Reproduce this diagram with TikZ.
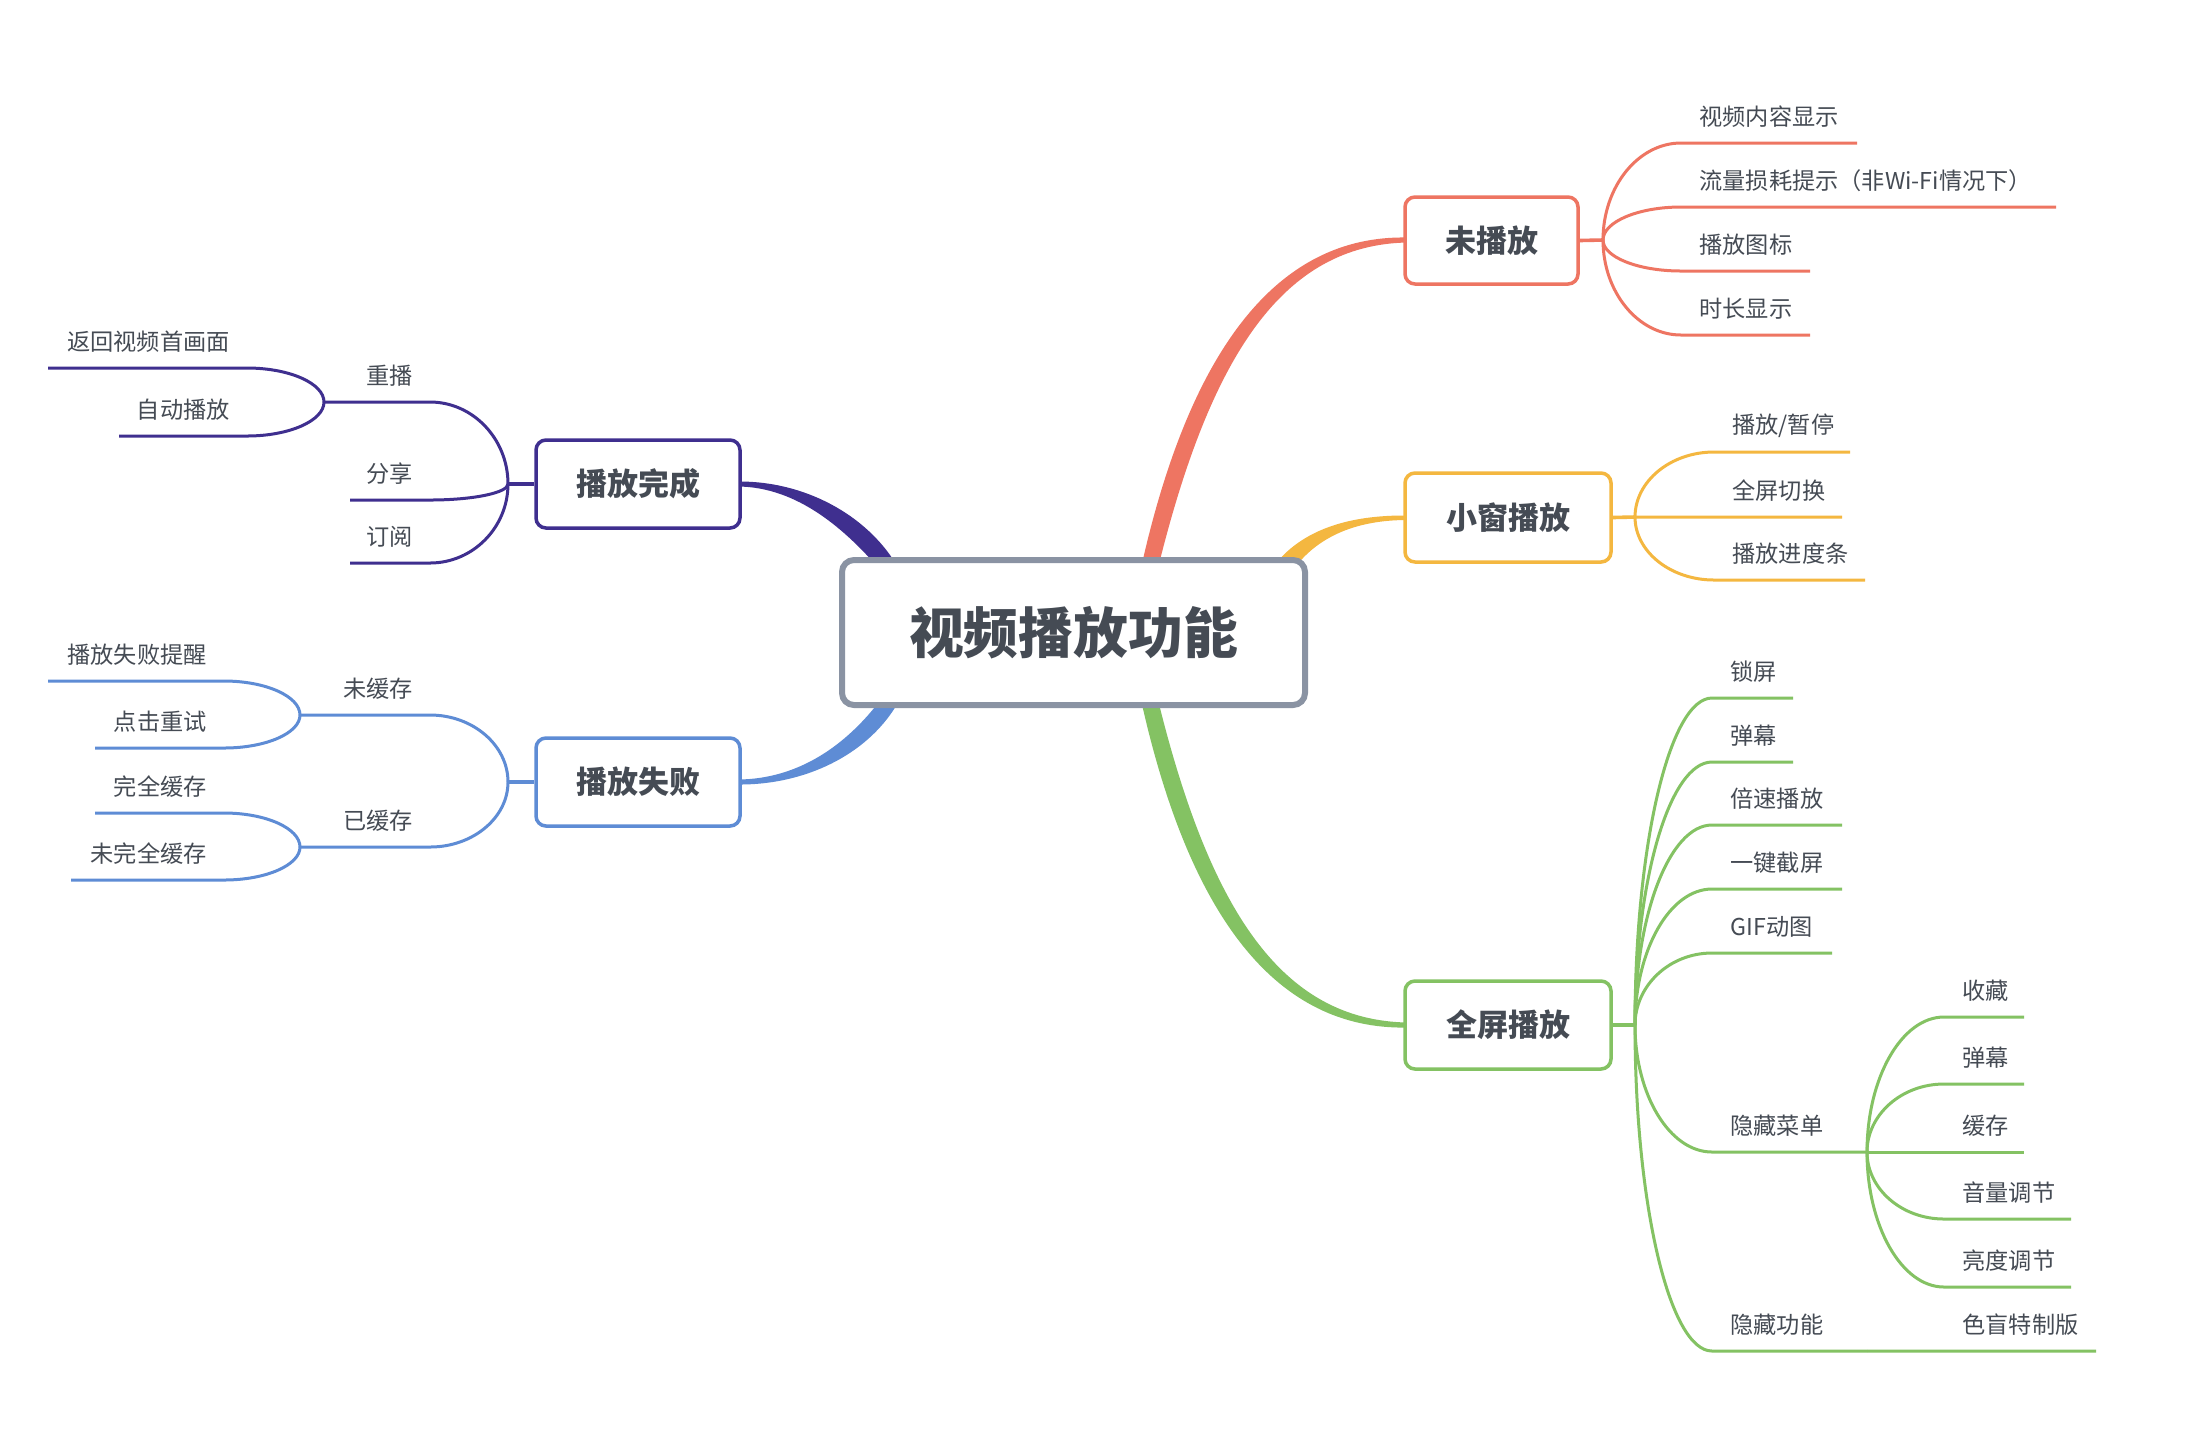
\documentclass[tikz,border=0pt]{standalone}
\usepackage{fontspec}
\setmainfont{Noto Sans CJK SC}
\usetikzlibrary{calc}
\definecolor{cred}{HTML}{EE7562}
\definecolor{cyel}{HTML}{F4B740}
\definecolor{cgrn}{HTML}{84C263}
\definecolor{cpur}{HTML}{3F2F8F}
\definecolor{cblu}{HTML}{5E8CD5}
\definecolor{cgray}{HTML}{8A93A3}
\definecolor{ctxt}{HTML}{454B54}
% right leaf: color, junction, name, start x, y, end x, text
\newcommand\leafR[7]{%
  \coordinate (#3s) at (#4,#5); \coordinate (#3e) at (#6,#5);
  \draw[leaf,#1] (#2) .. controls ($(#2)!0.55!(#2|-#3s)$) and ($(#3s)!0.55!(#2|-#3s)$) .. (#3s) -- (#3e);
  \node[lbl,anchor=west] (#3) at ($(#3s)+(18,-26)$) {#7};}
% left leaf: color, junction, name, start x (right end), y, end x (left end), text
\newcommand\leafL[7]{%
  \coordinate (#3s) at (#4,#5); \coordinate (#3e) at (#6,#5);
  \draw[leaf,#1] (#2) .. controls ($(#2)!0.55!(#2|-#3s)$) and ($(#3s)!0.55!(#2|-#3s)$) .. (#3s) -- (#3e);
  \node[lbl,anchor=east] (#3) at ($(#3s)+(-17,-26)$) {#7};}
\begin{document}
\begin{tikzpicture}[x=0.5pt,y=-0.5pt,
  box/.style={draw=#1,line width=1.75pt,rounded corners=5pt,fill=white,minimum height=44pt,inner sep=0pt,text=ctxt,font=\fontsize{15.5}{18}\selectfont\bfseries},
  lbl/.style={inner sep=0pt,text=ctxt,font=\fontsize{11.6}{14}\selectfont},
  leaf/.style={line width=1.5pt,line join=round},
  stub/.style={line width=1.8pt}]
\useasboundingbox (0,0) rectangle (2188,1432);
\fill[white] (0,0) rectangle (2188,1432);

% main tapered branches
\fill[cred] (1141,568) .. controls (1190,348) and (1278,235) .. (1407,237.5) -- (1407,242.5) .. controls (1284,245) and (1211,353) .. (1158,568) -- cycle;
\fill[cgrn] (1141,700) .. controls (1190,920) and (1278,1030) .. (1407,1027.5) -- (1407,1022.5) .. controls (1284,1020) and (1211,915) .. (1158,700) -- cycle;
\fill[cyel] (1277,562) .. controls (1305,529) and (1350,515) .. (1407,515.5) -- (1407,520) .. controls (1354,520) and (1316,538) .. (1293,570) -- cycle;
\fill[cpur] (738,481.5) .. controls (805,481) and (866,515) .. (896,564) -- (882,572) .. controls (846,530) and (798,487) .. (738,486.5) -- cycle;
\fill[cblu] (738,779.5) .. controls (798,779) and (846,746) .. (882,698) -- (896,706) .. controls (866,755) and (805,785) .. (738,784.5) -- cycle;

% central topic
\node[draw=cgray,line width=3pt,rounded corners=6pt,fill=white,minimum width=231.5pt,minimum height=72.5pt,inner sep=0pt,text=ctxt,font=\fontsize{27.4}{32}\selectfont\bfseries] (root) at (1073.5,632.5) {视频播放功能};

% ---------- purple: 播放完成
\node[box=cpur,minimum width=102pt] (pb) at (638,484) {播放完成};
\coordinate (jp) at (508,484);
\draw[stub,cpur] (pb.west) -- (jp);
\leafL{cpur}{jp}{p1}{430}{402}{324}{重播}
\leafL{cpur}{p1e}{p11}{247}{368}{48}{返回视频首画面}
\leafL{cpur}{p1e}{p12}{247}{436}{119}{自动播放}
\leafL{cpur}{jp}{p2}{430}{500}{350}{分享}
\leafL{cpur}{jp}{p3}{430}{563}{350}{订阅}

% ---------- blue: 播放失败
\node[box=cblu,minimum width=102pt] (fb) at (638,782) {播放失败};
\coordinate (jb) at (508,782);
\draw[stub,cblu] (fb.west) -- (jb);
\leafL{cblu}{jb}{b1}{430}{715}{300}{未缓存}
\leafL{cblu}{b1e}{b11}{224}{681}{48}{播放失败提醒}
\leafL{cblu}{b1e}{b12}{224}{748}{95}{点击重试}
\leafL{cblu}{jb}{b2}{430}{847}{300}{已缓存}
\leafL{cblu}{b2e}{b21}{224}{813}{95}{完全缓存}
\leafL{cblu}{b2e}{b22}{224}{880}{71}{未完全缓存}

% ---------- red: 未播放
\node[box=cred,minimum width=86.5pt,minimum height=43.5pt] (ub) at (1491.5,240.5) {未播放};
\coordinate (jr) at (1603,240);
\draw[stub,cred] (ub.east) -- (jr);
\leafR{cred}{jr}{r1}{1681}{143}{1857}{视频内容显示}
\leafR{cred}{jr}{r2}{1681}{207}{2056}{流量损耗提示（非Wi-Fi情况下）}
\leafR{cred}{jr}{r3}{1681}{271}{1810}{播放图标}
\leafR{cred}{jr}{r4}{1681}{335}{1810}{时长显示}

% ---------- yellow: 小窗播放
\node[box=cyel,minimum width=103pt,minimum height=44.5pt] (xb) at (1508,517.5) {小窗播放};
\coordinate (jy) at (1635,517);
\draw[stub,cyel] (xb.east) -- (jy);
\leafR{cyel}{jy}{y1}{1714}{452}{1850}{播放/暂停}
\leafR{cyel}{jy}{y2}{1714}{517}{1842}{全屏切换}
\leafR{cyel}{jy}{y3}{1714}{580}{1865}{播放进度条}

% ---------- green: 全屏播放
\node[box=cgrn,minimum width=103pt] (qb) at (1508,1025) {全屏播放};
\coordinate (jg) at (1635,1025);
\draw[stub,cgrn] (qb.east) -- (jg);
\leafR{cgrn}{jg}{g1}{1712}{698}{1793}{锁屏}
\leafR{cgrn}{jg}{g2}{1712}{762}{1793}{弹幕}
\leafR{cgrn}{jg}{g3}{1712}{825}{1842}{倍速播放}
\leafR{cgrn}{jg}{g4}{1712}{889}{1842}{一键截屏}
\leafR{cgrn}{jg}{g5}{1712}{953}{1832}{GIF动图}
\leafR{cgrn}{jg}{g6}{1712}{1152}{1867}{隐藏菜单}
\leafR{cgrn}{jg}{g7}{1712}{1351}{1867}{隐藏功能}
\leafR{cgrn}{g6e}{g61}{1944}{1017}{2024}{收藏}
\leafR{cgrn}{g6e}{g62}{1944}{1084}{2024}{弹幕}
\leafR{cgrn}{g6e}{g63}{1944}{1152}{2024}{缓存}
\leafR{cgrn}{g6e}{g64}{1944}{1219}{2071}{音量调节}
\leafR{cgrn}{g6e}{g65}{1944}{1287}{2071}{亮度调节}
\leafR{cgrn}{g7e}{g71}{1944}{1351}{2096}{色盲特制版}
\end{tikzpicture}
\end{document}
